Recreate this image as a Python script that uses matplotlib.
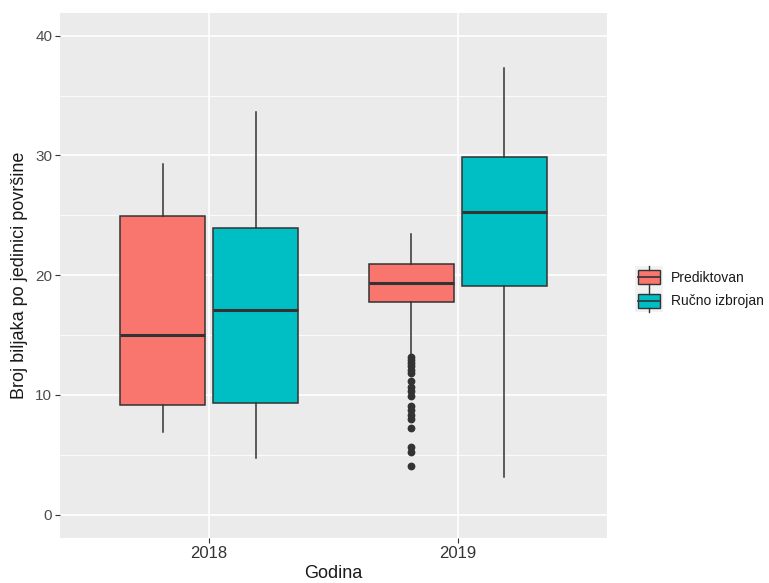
import matplotlib
matplotlib.use("Agg")
import matplotlib.pyplot as plt
from matplotlib.patches import Rectangle
from matplotlib.lines import Line2D
from matplotlib.legend_handler import HandlerBase

# ---- data ----
years = ["2018", "2019"]
groups = ["Prediktovan", "Ručno izbrojan"]
colors = ["#F8766D", "#00BFC4"]

pred_whislo = [6.9, 13.3]
pred_q1 = [9.2, 17.8]
pred_med = [15.0, 19.35]
pred_q3 = [24.95, 20.9]
pred_whishi = [29.3, 23.4]
pred_fliers_2018 = []
pred_fliers_2019 = [13.2, 12.95, 12.7, 12.4, 12.1, 11.85, 11.15, 10.7, 10.3, 9.9,
                    9.05, 8.7, 8.35, 8.0, 7.25, 5.65, 5.25, 4.05]

ruc_whislo = [4.75, 3.15]
ruc_q1 = [9.35, 19.1]
ruc_med = [17.1, 25.3]
ruc_q3 = [23.95, 29.9]
ruc_whishi = [33.6, 37.3]

ylabel = "Broj biljaka po jedinici površine"
xlabel = "Godina"
yticks = [0, 10, 20, 30, 40]

plt.rcParams["font.family"] = ["Liberation Sans", "DejaVu Sans"]

W, H = 769, 583
fig = plt.figure(figsize=(W / 100, H / 100), dpi=100)
fig.patch.set_facecolor("white")
left, right, top, bottom = 60, 607, 13, 538
ax = fig.add_axes([left / W, 1 - bottom / H, (right - left) / W, (bottom - top) / H])
ax.set_facecolor("#EBEBEB")
for s in ax.spines.values():
    s.set_visible(False)

# grid
for v in [5, 15, 25, 35]:
    ax.axhline(v, color="white", lw=0.6, zorder=0)
ax.set_axisbelow(True)
ax.grid(True, which="major", color="white", lw=1.2)

offset = 0.187
bw = 0.342

def make_stats(wl, q1, med, q3, wh, fl):
    return dict(whislo=wl, q1=q1, med=med, q3=q3, whishi=wh, fliers=fl)

pred_fliers = [pred_fliers_2018, pred_fliers_2019]
for gi, (g, c) in enumerate(zip(groups, colors)):
    stats = []
    for i in range(len(years)):
        if gi == 0:
            stats.append(make_stats(pred_whislo[i], pred_q1[i], pred_med[i],
                                    pred_q3[i], pred_whishi[i], pred_fliers[i]))
        else:
            stats.append(make_stats(ruc_whislo[i], ruc_q1[i], ruc_med[i],
                                    ruc_q3[i], ruc_whishi[i], []))
    pos = [i + 1 + (offset if gi else -offset) for i in range(len(years))]
    ax.bxp(stats, positions=pos, widths=bw, patch_artist=True, showcaps=False,
           boxprops=dict(facecolor=c, edgecolor="#333333", lw=1.1),
           medianprops=dict(color="#333333", lw=2.2),
           whiskerprops=dict(color="#333333", lw=1.1),
           flierprops=dict(marker="o", markerfacecolor="#333333",
                           markeredgecolor="#333333", markersize=4.6),
           manage_ticks=False, zorder=3)

ax.set_xlim(0.4, 2.6)
ax.set_ylim(-1.95, 41.9)
ax.set_xticks([1, 2])
ax.set_xticklabels(years, fontsize=12, color="#333333")
ax.set_yticks(yticks)
ax.set_yticklabels([str(v) for v in yticks], fontsize=11, color="#4D4D4D")
ax.tick_params(axis="both", length=3.5, width=0.8, color="#333333", pad=2)
ax.set_xlabel(xlabel, fontsize=13, color="#1A1A1A", labelpad=3)
ax.set_ylabel(ylabel, fontsize=13, color="#1A1A1A", labelpad=5)


class BoxHandler(HandlerBase):
    def create_artists(self, legend, orig_handle, xdescent, ydescent,
                       width, height, fontsize, trans):
        fc = orig_handle.get_facecolor()
        x0, y0 = -xdescent, -ydescent
        bg = Rectangle((x0, y0), width, height, facecolor="#F2F2F2",
                       edgecolor="none", transform=trans)
        box = Rectangle((x0 + 0.1 * width, y0 + 0.2 * height), 0.8 * width,
                        0.6 * height, facecolor=fc, edgecolor="#333333",
                        lw=1.0, transform=trans)
        med = Line2D([x0 + 0.1 * width, x0 + 0.9 * width],
                     [y0 + 0.5 * height] * 2, color="#333333", lw=1.2,
                     transform=trans)
        cx = x0 + 0.5 * width
        w1 = Line2D([cx, cx], [y0, y0 + 0.2 * height],
                    color="#333333", lw=1.0, transform=trans)
        w2 = Line2D([cx, cx], [y0 + 0.8 * height, y0 + height],
                    color="#333333", lw=1.0, transform=trans)
        return [bg, box, med, w1, w2]


handles = [Rectangle((0, 0), 1, 1, facecolor=c) for c in colors]
leg = fig.legend(handles, groups, loc="center left",
                 bbox_to_anchor=(635 / W, 1 - 289 / H),
                 bbox_transform=fig.transFigure,
                 handler_map={Rectangle: BoxHandler()},
                 frameon=False, fontsize=10, handlelength=2.0,
                 handleheight=2.2, labelspacing=0.0, handletextpad=0.6,
                 borderpad=0, borderaxespad=0)
for t in leg.get_texts():
    t.set_color("#1A1A1A")

fig.savefig("out.png", dpi=100)
